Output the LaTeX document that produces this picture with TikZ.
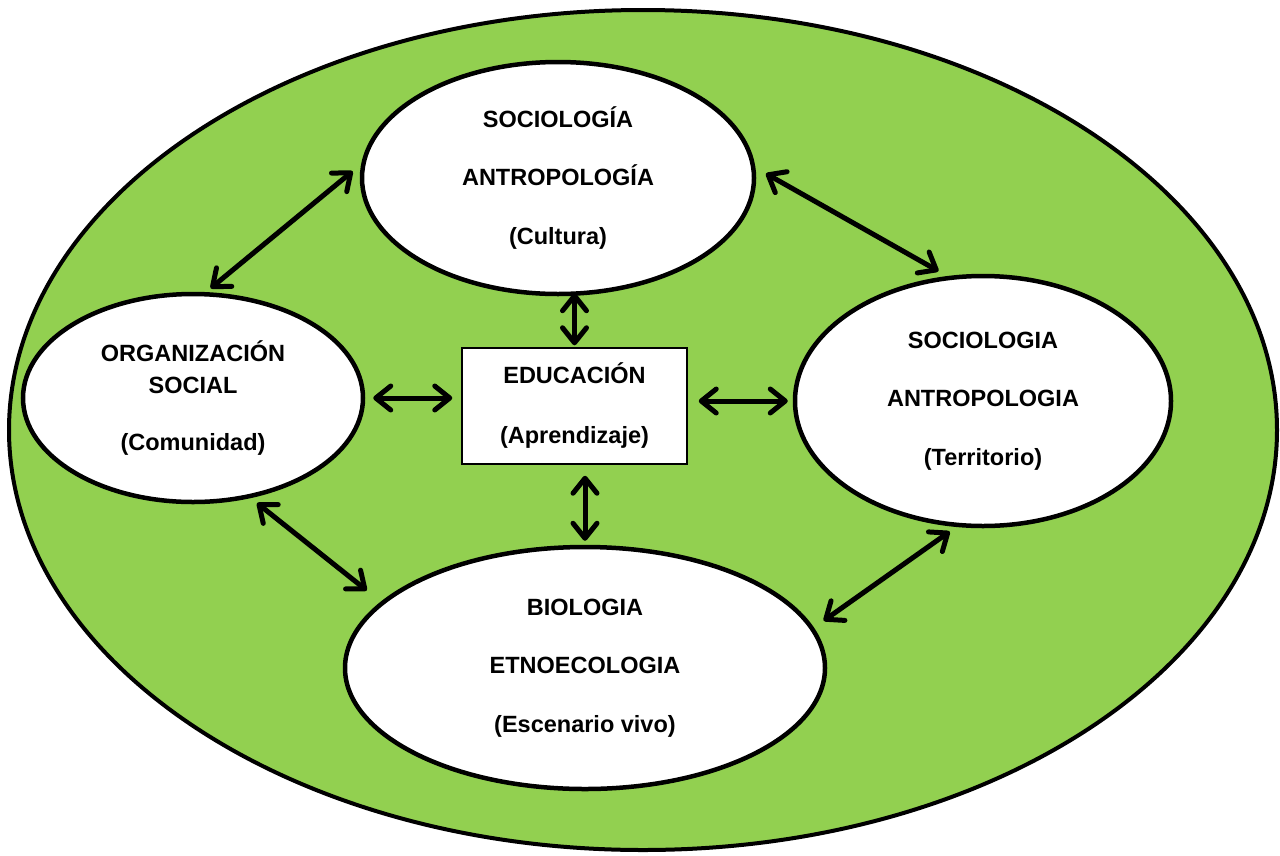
\documentclass[tikz,border=0pt]{standalone}
\usepackage{fontspec}
\setmainfont{Liberation Sans}
\usetikzlibrary{arrows.meta,shapes.geometric}
\definecolor{leaf}{HTML}{92D050}
\begin{document}
\begin{tikzpicture}[x=1pt,y=-1pt,
  lbl/.style={font=\fontsize{23.5}{58.5}\selectfont\bfseries, align=center},
  bubble/.style={ellipse, draw=black, line width=4.5pt, fill=white, inner sep=0pt, lbl},
  edubox/.style={rectangle, draw=black, line width=1.5pt, fill=white, inner sep=0pt, lbl},
  biarrow/.style={line width=5pt, line cap=round,
    {Straight Barb[length=15pt,width=24pt,round]}-{Straight Barb[length=15pt,width=24pt,round]}}]
\useasboundingbox (0,0) rectangle (1280,855);
\node[ellipse, draw=black, line width=4pt, fill=leaf, minimum width=1268pt, minimum height=840pt, inner sep=0pt] (outer) at (643,430) {};
\node[bubble, minimum width=392pt, minimum height=232pt] (top) at (558,178) {SOCIOLOGÍA\\ANTROPOLOGÍA\\(Cultura)};
\node[bubble, minimum width=340pt, minimum height=208pt, font=\fontsize{23.5}{32}\selectfont\bfseries] (left) at (193,398) {ORGANIZACIÓN\\SOCIAL\\[25pt](Comunidad)};
\node[bubble, minimum width=376pt, minimum height=250pt] (right) at (983,401) {SOCIOLOGIA\\ANTROPOLOGIA\\(Territorio)};
\node[bubble, minimum width=480pt, minimum height=242pt] (bottom) at (585,668) {BIOLOGIA\\ETNOECOLOGIA\\(Escenario vivo)};
\node[edubox, minimum width=225pt, minimum height=116pt, font=\fontsize{23.5}{60}\selectfont\bfseries] (box) at (574.5,406) {EDUCACIÓN\\(Aprendizaje)};
\draw[biarrow, shorten <=11pt, shorten >=6pt] (top.176.4) -- (left.83.8);
\draw[biarrow, shorten <=12pt, shorten >=10pt] (top.3) -- (right.106.7);
\draw[biarrow, shorten <=8pt, shorten >=18pt] (left.300.3) -- (bottom.162.5);
\draw[biarrow, shorten <=8pt, shorten >=12pt] (right.258.5) -- (bottom.10.7);
\draw[biarrow, shorten <=8pt, shorten >=9pt] (left.east) -- (left.east -| box.west);
\draw[biarrow, shorten <=11pt, shorten >=5pt] (right.west -| box.east) -- (right.west);
\draw[biarrow, shorten <=-3pt, shorten >=2pt] (box.north |- top.south) -- (box.north);
\draw[biarrow, shorten <=11pt, shorten >=4pt] (bottom.north |- box.south) -- (bottom.north);
\end{tikzpicture}
\end{document}
